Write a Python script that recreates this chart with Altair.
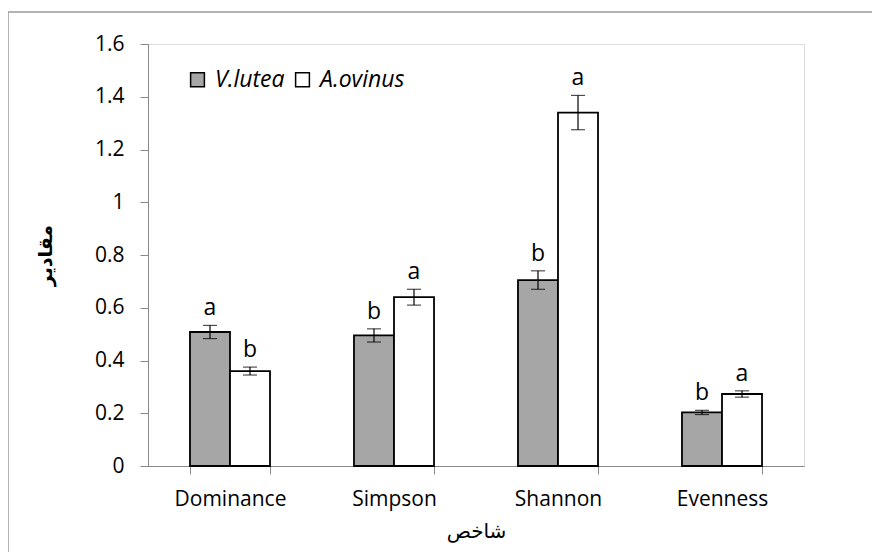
import altair as alt
import pandas as pd

categories = ["Dominance", "Simpson", "Shannon", "Evenness"]
series = ["V.lutea", "A.ovinus"]
vlutea_vals = [0.508, 0.495, 0.705, 0.203]
vlutea_err = [0.025, 0.025, 0.035, 0.008]
vlutea_lab = ["a", "b", "b", "b"]
aovinus_vals = [0.360, 0.640, 1.340, 0.273]
aovinus_err = [0.015, 0.030, 0.065, 0.012]
aovinus_lab = ["b", "a", "a", "a"]
y_ticks = [0, 0.2, 0.4, 0.6, 0.8, 1.0, 1.2, 1.4, 1.6]

rows = []
for i, c in enumerate(categories):
    rows.append(dict(cat=c, series=series[0], val=vlutea_vals[i], err=vlutea_err[i], lab=vlutea_lab[i]))
    rows.append(dict(cat=c, series=series[1], val=aovinus_vals[i], err=aovinus_err[i], lab=aovinus_lab[i]))
df = pd.DataFrame(rows)
df["lo"] = df["val"] - df["err"]
df["hi"] = df["val"] + df["err"]

FONT = "Open Sans"
AR_FONT = "DejaVu Sans"

xenc = alt.X("cat:N", sort=categories,
             scale=alt.Scale(paddingInner=0.512, paddingOuter=0.256),
             axis=alt.Axis(title="شاخص", labelAngle=0, tickBand="extent",
                           labelFont=FONT, labelFontSize=21, labelColor="black",
                           labelPadding=14, titleFont=AR_FONT, titleFontSize=20,
                           titleFontWeight="normal", titleColor="black",
                           titleY=65, titleBaseline="middle",
                           domainColor="#898989", tickColor="#898989", tickSize=8))
xoff = alt.XOffset("series:N", sort=series, scale=alt.Scale(paddingInner=0, paddingOuter=0))

base = alt.Chart(df)

bars = base.mark_bar(stroke="black", strokeWidth=1.8).encode(
    x=xenc,
    xOffset=xoff,
    y=alt.Y("val:Q", scale=alt.Scale(domain=[0, 1.6], nice=False),
            axis=alt.Axis(title="مقادیر", values=y_ticks, grid=False,
                          labelFont=FONT, labelFontSize=21, labelColor="black",
                          labelPadding=16, tickSize=8,
                          titleFont=AR_FONT, titleFontSize=19, titleFontWeight="bold",
                          titleColor="black", titleAngle=-90, titleX=-103, titleY=211,
                          titleAlign="center", titleBaseline="middle",
                          domainColor="#898989", tickColor="#898989",
                          labelExpr="datum.value == 1 ? '1' : datum.value == 0 ? '0' : format(datum.value, '.1f')")),
    fill=alt.Fill("series:N", sort=series,
                  scale=alt.Scale(domain=series, range=["#a6a6a6", "#ffffff"]),
                  legend=alt.Legend(title=None, orient="none", legendX=38, legendY=24,
                                    direction="horizontal", symbolType="square",
                                    symbolSize=190, symbolStrokeColor="black",
                                    symbolStrokeWidth=1.5, labelFont=FONT,
                                    labelFontSize=23, labelFontStyle="italic",
                                    labelColor="black", columnPadding=6,
                                    labelOffset=6)),
)

rules = base.mark_rule(color="black", strokeWidth=1.2).encode(
    x=alt.X("cat:N", sort=categories), xOffset=xoff, y="lo:Q", y2="hi:Q")
caps_lo = base.mark_tick(color="black", size=14, thickness=1.2, orient="horizontal").encode(
    x=alt.X("cat:N", sort=categories), xOffset=xoff, y="lo:Q")
caps_hi = base.mark_tick(color="black", size=14, thickness=1.2, orient="horizontal").encode(
    x=alt.X("cat:N", sort=categories), xOffset=xoff, y="hi:Q")
labels = base.mark_text(font=FONT, fontSize=23, baseline="bottom", dy=-5, color="black").encode(
    x=alt.X("cat:N", sort=categories), xOffset=xoff, y="hi:Q", text="lab:N")

frame_top = alt.Chart(alt.Data(values=[{}])).mark_rule(
    stroke="#9a9a9a", strokeWidth=1.5).encode(
    x=alt.value(-140), x2=alt.value(900), y=alt.value(-32))
frame_left = alt.Chart(alt.Data(values=[{}])).mark_rule(
    stroke="#9a9a9a", strokeWidth=1.5).encode(
    x=alt.value(-140), y=alt.value(-32), y2=alt.value(700))

chart = alt.layer(frame_top, frame_left, bars, rules, caps_lo, caps_hi, labels).properties(
    width=656, height=422,
    autosize=alt.AutoSizeParams(type="none"),
    padding={"left": 140, "top": 36, "right": 68, "bottom": 86},
).configure_view(stroke=None).configure(background="white")

chart.save("out.html", embed_options={"renderer": "svg", "actions": False})
